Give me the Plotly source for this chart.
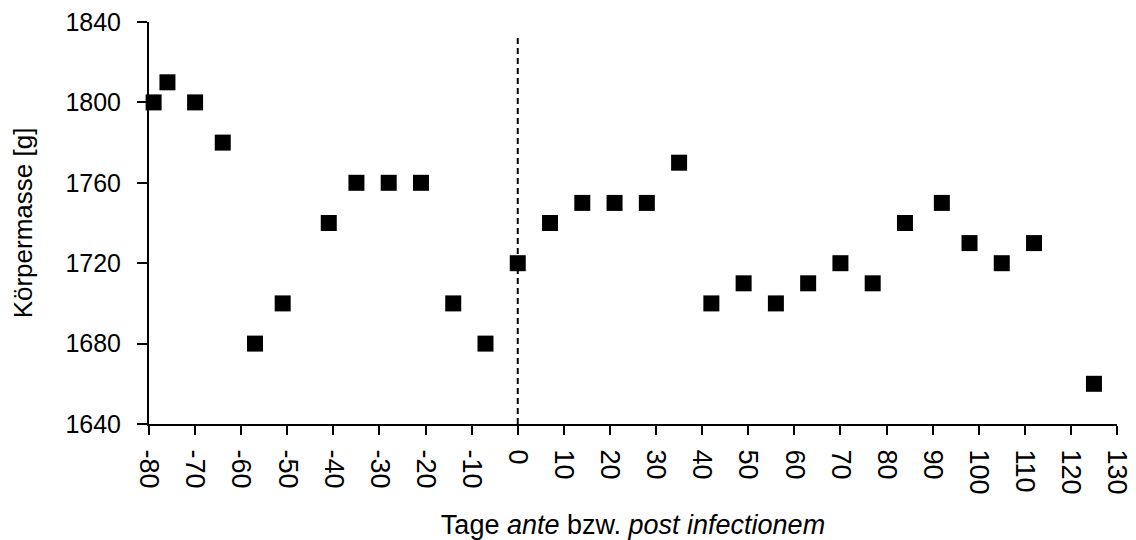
import plotly.graph_objects as go

# Data
days = [-79, -76, -70, -64, -57, -51, -41, -35, -28, -21, -14, -7, 0,
        7, 14, 21, 28, 35, 42, 49, 56, 63, 70, 77, 84, 92, 98, 105, 112, 125]
mass = [1800, 1810, 1800, 1780, 1680, 1700, 1740, 1760, 1760, 1760, 1700, 1680, 1720,
        1740, 1750, 1750, 1750, 1770, 1700, 1710, 1700, 1710, 1720, 1710, 1740, 1750,
        1730, 1720, 1730, 1660]

infection_x = [0, 0]
infection_y = [1640, 1832]

x_ticks = list(range(-80, 131, 10))
y_ticks = [1640, 1680, 1720, 1760, 1800, 1840]

FONT = "Liberation Sans, Arial, sans-serif"

fig = go.Figure()
fig.add_trace(go.Scatter(
    x=infection_x, y=infection_y, mode="lines",
    line=dict(color="black", width=2, dash="6px,4px"),
    showlegend=False, hoverinfo="skip",
))
fig.add_trace(go.Scatter(
    x=days, y=mass, mode="markers",
    marker=dict(symbol="square", size=16, color="black", line=dict(width=0)),
    cliponaxis=False, showlegend=False,
))

# page body has an 8px default margin, so the figure is 8px smaller and margins shifted
fig.update_layout(
    width=1128, height=532,
    margin=dict(l=141, r=19, t=14, b=116),
    paper_bgcolor="white", plot_bgcolor="white",
    font=dict(family=FONT, size=25, color="black"),
    xaxis=dict(
        range=[-80, 130], tickvals=x_ticks, ticktext=[str(v) for v in x_ticks],
        tickangle=90, showgrid=False, zeroline=False, automargin=False,
        showline=True, linecolor="black", linewidth=2,
        ticks="outside", ticklen=9, tickwidth=2, tickcolor="black",
        ticklabelstandoff=9, ticklabeloverflow="allow", tickfont=dict(size=27),
        title=dict(text="Tage <i>ante</i> bzw. <i>post infectionem</i>",
                   font=dict(size=27), standoff=22),
    ),
    yaxis=dict(
        range=[1640, 1840], tickvals=y_ticks, showgrid=False, zeroline=False,
        automargin=False,
        showline=True, linecolor="black", linewidth=2,
        ticks="outside", ticklen=10, tickwidth=2, tickcolor="black",
        ticklabelstandoff=11, ticklabeloverflow="allow", tickfont=dict(size=25),
        title=dict(text="Körpermasse [g]", font=dict(size=26), standoff=25),
    ),
)

fig.write_html("out.html")
